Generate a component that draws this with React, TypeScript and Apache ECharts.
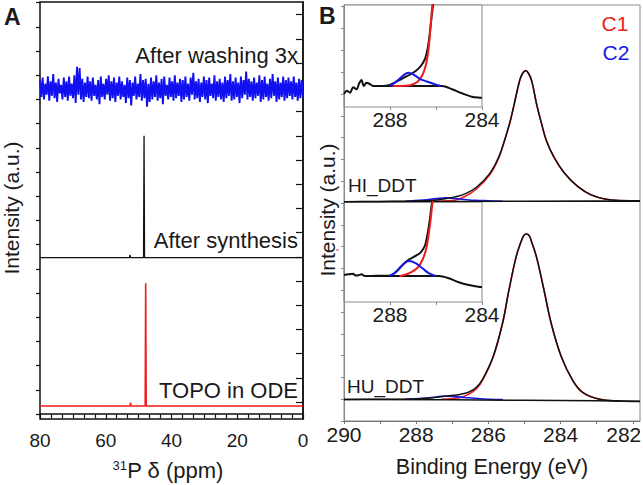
import React, { useEffect, useRef } from "react";
import * as echarts from "echarts";

const FONT = "'Liberation Sans', Arial, Helvetica, sans-serif";

// ---------- Panel A : 31P NMR ----------
const aTickMajor = [1, 3, 5, 7, 9, 11, 13, 15, 17, 19, 21, 23, 25, 27, 29, 31, 33];
const aTickMinor = [0, 2, 4, 6, 8, 10, 12, 14, 16, 18, 20, 22, 24, 26, 28, 30, 32, 34];

const topoInODE: [number, number][] = [
  [80, 0.67], [52.6, 0.67], [52.45, 0.95], [52.3, 0.67], [48.0, 0.67],
  [47.85, 10.81], [47.7, 0.67], [0, 0.67],
];
const afterSynthesis: [number, number][] = [
  [80, 12.93], [52.75, 12.93], [52.6, 13.15], [52.45, 12.93], [48.5, 12.93],
  [48.35, 22.99], [48.2, 12.93], [0, 12.93],
];
// noisy trace, 200 samples evenly spread from 80 ppm to 0 ppm
const afterWashing = [
  27.6, 26.2, 27.8, 26.0, 27.3, 26.4, 27.9, 25.9, 27.5, 26.3, 28.1, 26.1, 27.4, 25.8, 27.7, 26.5, 27.2, 26.0, 27.8, 26.2,
  27.5, 25.9, 27.9, 26.3, 27.3, 26.1, 28.0, 25.7, 28.7, 26.4, 28.6, 26.0, 27.7, 25.8, 27.4, 26.2, 27.9, 26.1, 27.5, 25.9,
  27.8, 26.3, 27.2, 26.0, 27.6, 25.6, 27.9, 26.2, 27.3, 26.0, 27.7, 26.4, 28.0, 25.9, 27.5, 26.1, 27.8, 25.8, 27.4, 26.3,
  27.9, 26.0, 27.5, 26.2, 27.2, 25.7, 27.8, 26.1, 27.6, 25.5, 27.4, 26.3, 27.9, 26.0, 27.3, 26.2, 28.1, 25.9, 27.6, 26.1,
  27.7, 25.4, 27.3, 25.8, 27.8, 26.0, 27.5, 26.2, 28.0, 25.9, 27.4, 26.1, 27.7, 25.6, 27.9, 26.3, 27.2, 26.0, 27.8, 26.2,
  27.5, 25.9, 28.0, 26.1, 27.4, 26.3, 27.7, 25.8, 27.6, 26.0, 27.9, 26.2, 27.3, 25.9, 27.8, 26.4, 28.2, 26.0, 27.5, 26.1,
  27.7, 25.8, 27.4, 26.2, 27.9, 26.0, 27.6, 25.7, 27.8, 26.3, 27.3, 26.1, 28.0, 25.9, 27.5, 26.2, 27.7, 26.0, 27.4, 25.8,
  27.9, 26.1, 27.6, 26.3, 28.1, 25.9, 27.5, 26.0, 27.8, 26.2, 27.4, 25.7, 27.9, 26.1, 27.6, 26.4, 28.3, 26.0, 27.7, 26.2,
  27.5, 25.9, 27.8, 26.1, 27.4, 26.3, 28.0, 25.8, 27.6, 26.0, 27.9, 26.2, 27.3, 25.9, 27.7, 26.1, 28.1, 26.3, 27.5, 25.8,
  27.8, 26.0, 27.4, 26.2, 27.9, 25.9, 27.6, 26.1, 27.8, 26.3, 27.5, 26.0, 27.9, 26.2, 27.4, 25.9, 27.7, 26.1, 27.6, 26.2,
];
const washStart = 80;
const washEnd = 0;

// ---------- Panel B : C1s XPS ----------
const bTicksX = [282, 283, 284, 285, 286, 287, 288, 289, 290];
const bLabelsX = [282, 284, 286, 288, 290];
const bTicksY = [0, 1, 2, 3, 4, 5, 6, 7, 8, 9, 10, 11, 12, 13, 14, 15, 16, 17, 18, 19];
const insetTicks = [284, 286, 288, 290];
const insetLabels = [284, 288];

const hiEnvelope: [number, number][] = [
  [290.0, 10.06], [289.5, 10.07], [289.0, 10.07], [288.5, 10.08], [288.0, 10.09], [287.5, 10.13],
  [287.16, 10.2], [286.9, 10.29], [286.65, 10.42], [286.33, 10.72], [285.96, 11.36], [285.71, 12.12],
  [285.55, 12.89], [285.41, 13.66], [285.3, 14.42], [285.13, 15.64], [285.05, 15.95], [284.97, 16.07],
  [284.89, 15.95], [284.8, 15.6], [284.66, 14.5], [284.53, 13.66], [284.4, 12.89], [284.19, 12.12],
  [283.89, 11.36], [283.52, 10.75], [283.15, 10.37], [282.74, 10.17], [282.3, 10.11], [281.8, 10.1],
];
const hiC1: [number, number][] = [
  [287.6, 10.08], [287.0, 10.11], [286.65, 10.3], [286.33, 10.64], [285.96, 11.3], [285.71, 12.08],
  [285.55, 12.87], [285.41, 13.66], [285.3, 14.42], [285.13, 15.64], [285.05, 15.95], [284.97, 16.07],
  [284.89, 15.95], [284.8, 15.6], [284.66, 14.5], [284.53, 13.66], [284.4, 12.89], [284.19, 12.12],
  [283.89, 11.36], [283.52, 10.75], [283.15, 10.37], [282.74, 10.17], [282.3, 10.1],
];
const hiC2: [number, number][] = [
  [288.3, 10.08], [287.8, 10.13], [287.45, 10.2], [287.19, 10.24], [286.95, 10.21],
  [286.66, 10.16], [286.37, 10.12], [286.0, 10.1], [285.6, 10.08],
];
const hiBackground: [number, number][] = [
  [290.0, 10.06], [287.0, 10.07], [285.0, 10.08], [283.0, 10.09], [281.8, 10.08],
];

const huEnvelope: [number, number][] = [
  [290.0, 0.99], [289.0, 1.0], [288.0, 1.01], [287.6, 1.05], [287.35, 1.11], [287.05, 1.17],
  [286.79, 1.22], [286.55, 1.32], [286.33, 1.55], [286.15, 1.95], [285.87, 2.95], [285.61, 4.48],
  [285.43, 6.01], [285.23, 7.54], [285.1, 8.2], [285.02, 8.5], [284.95, 8.58], [284.87, 8.5],
  [284.8, 8.2], [284.67, 7.54], [284.46, 6.01], [284.26, 4.48], [283.98, 2.95], [283.66, 1.85],
  [283.38, 1.3], [282.92, 1.0], [282.37, 0.92], [281.8, 0.9],
];
const huC1: [number, number][] = [
  [287.3, 1.0], [286.8, 1.07], [286.55, 1.22], [286.33, 1.48], [286.15, 1.9], [285.87, 2.92],
  [285.61, 4.46], [285.43, 6.01], [285.23, 7.54], [285.1, 8.2], [285.02, 8.5], [284.95, 8.58],
  [284.87, 8.5], [284.8, 8.2], [284.67, 7.54], [284.46, 6.01], [284.26, 4.48], [283.98, 2.95],
  [283.66, 1.85], [283.38, 1.3], [282.92, 1.0], [282.37, 0.93],
];
const huC2: [number, number][] = [
  [288.3, 1.0], [287.8, 1.04], [287.45, 1.1], [287.19, 1.14], [286.95, 1.12],
  [286.66, 1.08], [286.37, 1.04], [286.0, 1.0], [285.6, 0.98],
];
const huBackground: [number, number][] = [
  [290.0, 0.99], [287.0, 0.98], [285.0, 0.95], [283.0, 0.93], [281.8, 0.91],
];

// inset of HI_DDT
const in1Envelope: [number, number][] = [
  [290.0, 13], [289.88, 16.3], [289.74, 14.3], [289.6, 19.7], [289.45, 17.7], [289.34, 23.7],
  [289.24, 27], [289.14, 21], [289.02, 24.3], [288.88, 23], [288.74, 21], [288.31, 21],
  [288.02, 22], [287.73, 25.3], [287.45, 28.7], [287.16, 32], [286.87, 36.3], [286.66, 41],
  [286.47, 48.7], [286.36, 58.7], [286.27, 73.7], [286.19, 90.3], [286.12, 103.7],
];
const in1C1: [number, number][] = [
  [287.88, 21], [287.3, 21.2], [287.09, 22], [286.8, 25.3], [286.59, 32], [286.44, 42],
  [286.33, 57], [286.26, 73.7], [286.19, 93.7], [286.14, 107],
];
const in1C2: [number, number][] = [
  [288.02, 21], [287.73, 25.3], [287.45, 31], [287.19, 34.3], [286.95, 32], [286.66, 27.7],
  [286.37, 25.3], [286.09, 23], [285.8, 21],
];
const in1Background: [number, number][] = [
  [288.74, 21], [285.73, 21], [285.3, 17.7], [284.87, 13.7], [284.44, 10.3], [284.08, 9.3], [284.0, 9.2],
];

// inset of HU_DDT
const in2Envelope: [number, number][] = [
  [290.0, 27], [289.81, 27.7], [289.6, 28.3], [289.5, 26.5], [289.38, 26.7], [289.24, 27.7],
  [289.1, 26], [288.6, 26.2], [288.02, 26.3], [287.81, 28.7], [287.59, 33.7], [287.38, 38.7],
  [287.16, 42.7], [286.87, 46.3], [286.66, 49.7], [286.47, 57], [286.36, 68.7], [286.27, 82],
  [286.19, 97], [286.14, 102],
];
const in2C1: [number, number][] = [
  [287.59, 26], [287.38, 27], [287.09, 29.7], [286.8, 34.3], [286.59, 42], [286.42, 53.7],
  [286.3, 70.3], [286.21, 87], [286.16, 98.7], [286.13, 104],
];
const in2C2: [number, number][] = [
  [288.02, 26], [287.73, 30.3], [287.45, 37], [287.19, 41], [286.87, 38.7], [286.59, 33.7],
  [286.3, 28.7], [286.01, 26],
];
const in2Background: [number, number][] = [
  [289.1, 26], [285.87, 26], [285.44, 23.7], [285.01, 19.7], [284.58, 17], [284.15, 15.3], [284.0, 15],
];

const RED = "#ee1c1c";
const BLUE = "#1818e6";
const BLACK = "#111111";
const GRAY = "#8a8a8a";
const TXT = "#1a1a1a";

function line(
  name: string,
  data: any[],
  xi: number,
  yi: number,
  color: string,
  width: number,
  smooth: boolean | number = false,
  z = 2
) {
  return {
    name,
    type: "line",
    xAxisIndex: xi,
    yAxisIndex: yi,
    data,
    smooth,
    symbol: "none",
    showSymbol: false,
    z,
    lineStyle: { color, width },
    itemStyle: { color },
    emphasis: { disabled: true },
    silent: true,
  };
}

function text(x: number, y: number, s: string, size: number, extra: any = {}, elExtra: any = {}) {
  return {
    type: "text",
    x,
    y,
    ...elExtra,
    style: {
      text: s,
      fontSize: size,
      fontFamily: FONT,
      fill: TXT,
      align: "left",
      textAlign: "left",
      verticalAlign: "middle",
      textVerticalAlign: "middle",
      ...extra,
    },
  };
}

export default function App() {
  const ref = useRef<HTMLDivElement>(null);

  useEffect(() => {
    if (!ref.current) return;
    const chart = echarts.init(ref.current, undefined, { renderer: "svg" });

    const washData = afterWashing.map((v, i) => [
      washStart - (i * (washStart - washEnd)) / (afterWashing.length - 1),
      v,
    ]);

    const insetX = (gi: number) => ({
      type: "value",
      gridIndex: gi,
      min: 284,
      max: 290,
      inverse: true,
      axisLine: { show: false },
      axisTick: { show: true, customValues: insetTicks, length: 3, lineStyle: { color: GRAY } },
      axisLabel: { customValues: insetLabels, fontSize: 21, fontFamily: FONT, color: TXT, margin: 2 },
      splitLine: { show: false },
    });

    const gridBase = { show: true, outerBoundsMode: "none", containLabel: false };

    const option: any = {
      animation: false,
      backgroundColor: "#ffffff",
      textStyle: { fontFamily: FONT },
      grid: [
        { ...gridBase, left: 40, top: 2, width: 263, height: 417, borderColor: BLACK, borderWidth: 1.5, backgroundColor: "transparent" },
        { ...gridBase, left: 344, top: 5, width: 296, height: 416, borderColor: GRAY, borderWidth: 1, backgroundColor: "transparent" },
        { ...gridBase, left: 344, top: 5, width: 138, height: 102, borderColor: GRAY, borderWidth: 1, backgroundColor: "#ffffff" },
        { ...gridBase, left: 344, top: 202, width: 138, height: 100, borderColor: GRAY, borderWidth: 1, backgroundColor: "#ffffff" },
      ],
      xAxis: [
        {
          type: "value",
          gridIndex: 0,
          min: 0,
          max: 80,
          interval: 20,
          inverse: true,
          axisLine: { show: true, lineStyle: { color: BLACK, width: 1.5 } },
          axisTick: { show: true, length: 5, lineStyle: { color: BLACK, width: 1.2 } },
          minorTick: { show: true, splitNumber: 6, length: 4, lineStyle: { color: BLACK, width: 1.2 } },
          axisLabel: { fontSize: 19, fontFamily: FONT, color: TXT, margin: 12 },
          splitLine: { show: false },
          minorSplitLine: { show: false },
        },
        {
          type: "value",
          gridIndex: 1,
          min: 281.8,
          max: 290,
          inverse: true,
          axisLine: { show: true, lineStyle: { color: "#777777", width: 1 } },
          axisTick: { show: true, customValues: bTicksX, length: 3, lineStyle: { color: "#777777" } },
          axisLabel: {
            customValues: bLabelsX,
            fontSize: 21,
            fontFamily: FONT,
            color: TXT,
            margin: 3,
            formatter: (v: number) => (v === 282 ? "{e|282}" : String(v)),
            rich: { e: { fontSize: 21, fontFamily: FONT, color: TXT, padding: [0, 18, 0, 0] } },
          },
          splitLine: { show: false },
        },
        insetX(2),
        insetX(3),
      ],
      yAxis: [
        {
          type: "value",
          gridIndex: 0,
          min: -0.4,
          max: 34.05,
          position: "left",
          axisLine: { show: true, lineStyle: { color: BLACK, width: 1.5 } },
          axisTick: { show: true, customValues: aTickMajor, length: 7, lineStyle: { color: BLACK, width: 1.2 } },
          axisLabel: { show: false },
          splitLine: { show: false },
        },
        {
          type: "value",
          gridIndex: 0,
          min: -0.4,
          max: 34.05,
          position: "left",
          offset: 0,
          axisLine: { show: false },
          axisTick: { show: true, customValues: aTickMinor, length: 4, lineStyle: { color: BLACK, width: 1.2 } },
          axisLabel: { show: false },
          splitLine: { show: false },
        },
        {
          type: "value",
          gridIndex: 1,
          min: 0,
          max: 19.08,
          axisLine: { show: true, lineStyle: { color: GRAY, width: 1 } },
          axisTick: { show: true, customValues: bTicksY, length: 3, lineStyle: { color: GRAY } },
          axisLabel: { show: false },
          splitLine: { show: false },
        },
        { type: "value", gridIndex: 2, min: 0, max: 102, show: false, splitLine: { show: false } },
        { type: "value", gridIndex: 3, min: 0, max: 100, show: false, splitLine: { show: false } },
      ],
      series: [
        line("TOPO in ODE", topoInODE, 0, 0, RED, 1.6),
        line("After synthesis", afterSynthesis, 0, 0, BLACK, 1.3),
        line("After washing 3x", washData, 0, 0, "#1010f0", 1.9),

        line("HI C1", hiC1, 1, 2, RED, 1.6, 0.4),
        line("HI C2", hiC2, 1, 2, BLUE, 1.6, 0.4),
        line("HI background", hiBackground, 1, 2, BLACK, 1.5),
        line("HI envelope", hiEnvelope, 1, 2, BLACK, 1.5, 0.4, 3),
        line("HU C1", huC1, 1, 2, RED, 1.6, 0.4),
        line("HU C2", huC2, 1, 2, BLUE, 1.6, 0.4),
        line("HU background", huBackground, 1, 2, BLACK, 1.5),
        line("HU envelope", huEnvelope, 1, 2, BLACK, 1.5, 0.4, 3),

        line("in1 background", in1Background, 2, 3, BLACK, 2, 0.3),
        line("in1 envelope", in1Envelope, 2, 3, BLACK, 2, 0.25),
        line("in1 C1", in1C1, 2, 3, RED, 2, 0.3, 3),
        line("in1 C2", in1C2, 2, 3, BLUE, 2, 0.4, 3),

        line("in2 background", in2Background, 3, 4, BLACK, 2, 0.3),
        line("in2 envelope", in2Envelope, 3, 4, BLACK, 2, 0.25),
        line("in2 C1", in2C1, 3, 4, RED, 2, 0.3, 3),
        line("in2 C2", in2C2, 3, 4, BLUE, 2, 0.4, 3),
      ],
      graphic: [
        text(4, 17, "A", 23, { fontWeight: "bold" }),
        text(319, 16, "B", 23, { fontWeight: "bold" }),
        text(298, 55, "After washing 3x", 22, { align: "right", textAlign: "right" }),
        text(298, 240, "After synthesis", 22, { align: "right", textAlign: "right" }),
        text(298, 390, "TOPO in ODE", 22, { align: "right", textAlign: "right" }),
        text(348, 185, "HI_DDT", 19),
        text(347, 386, "HU_DDT", 19),
        text(615, 23, "C1", 21, { align: "center", textAlign: "center", fill: RED }),
        text(616, 52, "C2", 21, { align: "center", textAlign: "center", fill: BLUE }),
        text(168, 470, "{sup|31}P δ (ppm)", 22, {
          align: "center",
          textAlign: "center",
          rich: { sup: { fontSize: 13, fontFamily: FONT, fill: TXT, verticalAlign: "top" } },
        }),
        text(492, 467, "Binding Energy (eV)", 21.5, { align: "center", textAlign: "center" }),
        text(11.5, 208, "Intensity (a.u.)", 21, { align: "center", textAlign: "center" }, { rotation: Math.PI / 2 }),
        text(327, 210, "Intensity (a.u.)", 21, { align: "center", textAlign: "center" }, { rotation: Math.PI / 2 }),
        {
          type: "line",
          shape: { x1: 336, y1: 250, x2: 339, y2: 250 },
          style: { stroke: "#e84040", lineWidth: 1 },
        },
      ],
    };

    chart.setOption(option);
    return () => chart.dispose();
  }, []);

  return (
    <div
      ref={ref}
      style={{ position: "fixed", left: 0, top: 0, width: 643, height: 485, background: "#fff" }}
    />
  );
}
